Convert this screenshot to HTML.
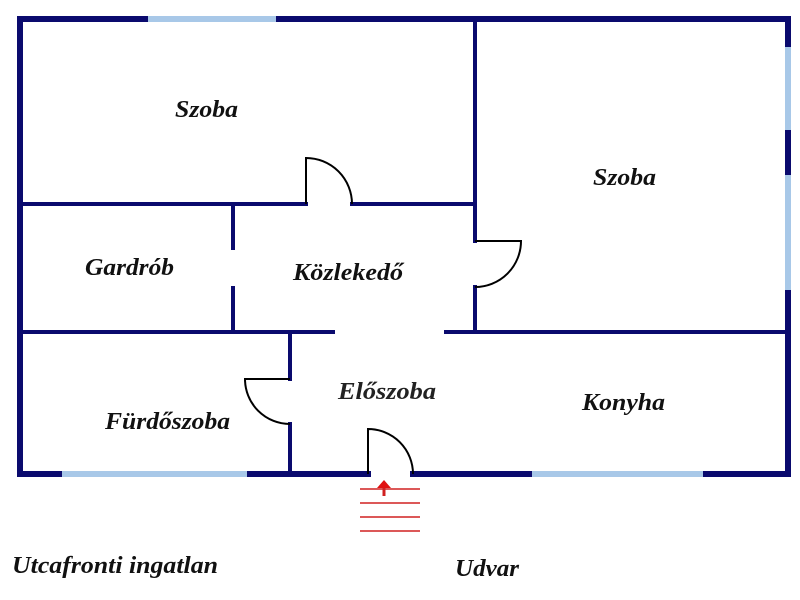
<!DOCTYPE html>
<html><head><meta charset="utf-8"><style>
html,body{margin:0;padding:0;background:#fff;}
svg{display:block;}
text{font-family:"Liberation Serif",serif;font-weight:bold;font-style:italic;font-size:24px;fill:#111;}
</style></head><body>
<svg width="800" height="600" viewBox="0 0 800 600" xmlns="http://www.w3.org/2000/svg">
<g stroke="#0a0a6e" stroke-linecap="square" fill="none">
<line x1="20" y1="19" x2="788" y2="19" stroke-width="6"/>
<line x1="20" y1="19" x2="20" y2="474" stroke-width="6"/>
<line x1="788" y1="19" x2="788" y2="474" stroke-width="6"/>
<line x1="20" y1="474" x2="368" y2="474" stroke-width="6"/>
<line x1="413" y1="474" x2="788" y2="474" stroke-width="6"/>
<line x1="20" y1="204" x2="306" y2="204" stroke-width="4"/>
<line x1="352" y1="204" x2="475" y2="204" stroke-width="4"/>
<line x1="475" y1="19" x2="475" y2="241" stroke-width="4"/>
<line x1="475" y1="287" x2="475" y2="332" stroke-width="4"/>
<line x1="233" y1="204" x2="233" y2="248" stroke-width="4"/>
<line x1="233" y1="288" x2="233" y2="332" stroke-width="4"/>
<line x1="20" y1="332" x2="333" y2="332" stroke-width="4"/>
<line x1="446" y1="332" x2="788" y2="332" stroke-width="4"/>
<line x1="290" y1="332" x2="290" y2="379" stroke-width="4"/>
<line x1="290" y1="424" x2="290" y2="474" stroke-width="4"/>
</g>
<g stroke="#a8c8e8" stroke-width="6" stroke-linecap="butt">
<line x1="148" y1="19" x2="276" y2="19"/>
<line x1="62" y1="474" x2="247" y2="474"/>
<line x1="532" y1="474" x2="703" y2="474"/>
<line x1="788" y1="47" x2="788" y2="130"/>
<line x1="788" y1="175" x2="788" y2="290"/>
</g>
<g stroke="#000" stroke-width="2" fill="none">
<path d="M306 204 L306 158 A46 46 0 0 1 352 204"/>
<path d="M475 241 L521 241 A46 46 0 0 1 475 287"/>
<path d="M290 424 A45 45 0 0 1 245 379 L290 379"/>
<path d="M368 474 L368 429 A45 45 0 0 1 413 474"/>
</g>
<g stroke="#d02020" stroke-width="1.5">
<line x1="360" y1="489" x2="420" y2="489"/>
<line x1="360" y1="503" x2="420" y2="503"/>
<line x1="360" y1="517" x2="420" y2="517"/>
<line x1="360" y1="531" x2="420" y2="531"/>
<line x1="384" y1="496" x2="384" y2="485" stroke-width="3"/>
</g>
<polygon points="377,488 384,480 391,488" fill="#e01010"/>
<text x="175" y="117" textLength="63" lengthAdjust="spacingAndGlyphs">Szoba</text>
<text x="593" y="185" textLength="63" lengthAdjust="spacingAndGlyphs">Szoba</text>
<text x="85" y="275" textLength="89" lengthAdjust="spacingAndGlyphs">Gardrób</text>
<text x="293" y="280" textLength="110" lengthAdjust="spacingAndGlyphs">Közlekedő</text>
<text x="338" y="399" textLength="98" lengthAdjust="spacingAndGlyphs" style="fill:#222">Előszoba</text>
<text x="105" y="429" textLength="125" lengthAdjust="spacingAndGlyphs">Fürdőszoba</text>
<text x="582" y="410" textLength="83" lengthAdjust="spacingAndGlyphs">Konyha</text>
<text x="12" y="573" textLength="206" lengthAdjust="spacingAndGlyphs">Utcafronti ingatlan</text>
<text x="455" y="576" textLength="64" lengthAdjust="spacingAndGlyphs">Udvar</text>
</svg>
</body></html>
